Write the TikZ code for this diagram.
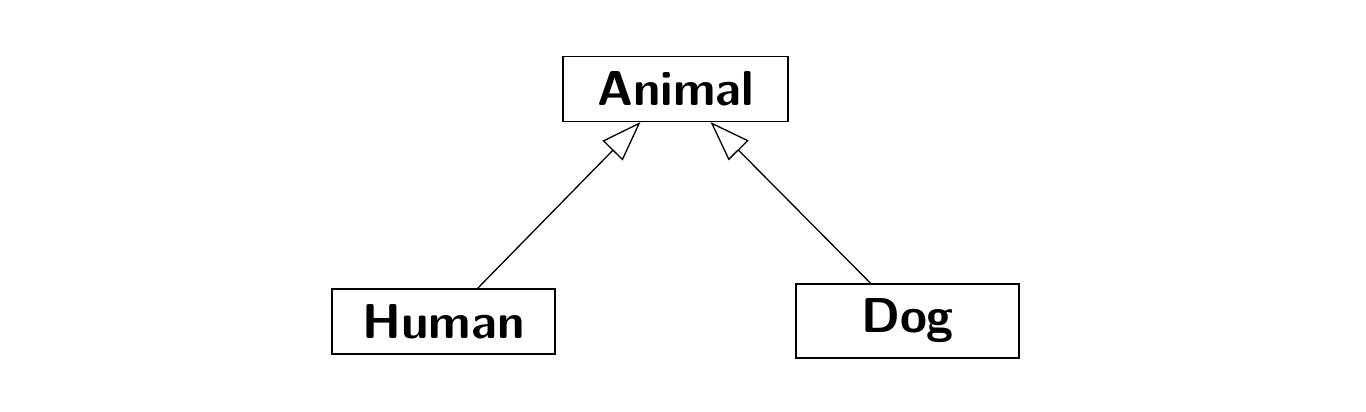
\documentclass[tikz,border=0pt]{standalone}
\usetikzlibrary{arrows.meta}
\begin{document}
\begin{tikzpicture}[x=1pt,y=-1pt,
  classbox/.style={draw, line width=1.5pt, rectangle, minimum width=223pt, inner ysep=15pt,
    font=\fontsize{49}{53}\selectfont\sffamily\bfseries},
  inherit/.style={line width=1.3pt, -{Triangle[open, length=40pt, width=28pt, line width=1.3pt]}}]
\useasboundingbox (0,0) rectangle (1366,412);
\node[classbox, minimum width=225pt] (animal) at (675.5,89) {Animal};
\node[classbox] (human) at (443.5,321.5) {Human};
\node[classbox] (dog) at (907.5,321) {Dog};
\draw[inherit] ([xshift=34pt]human.north) -- ([xshift=-35pt]animal.south);
\draw[inherit] ([xshift=-37pt]dog.north) -- ([xshift=35pt]animal.south);
\end{tikzpicture}
\end{document}
